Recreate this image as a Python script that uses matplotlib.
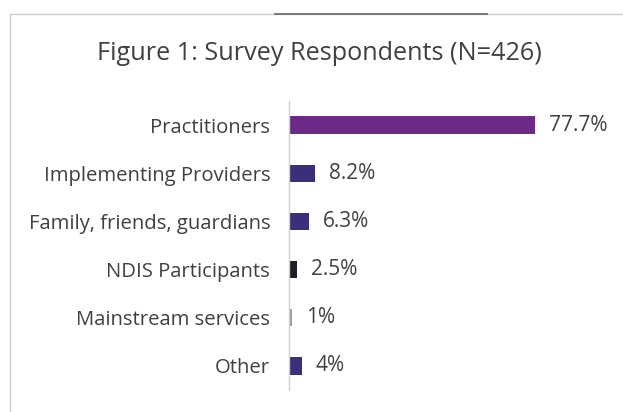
import matplotlib
matplotlib.use("Agg")
import matplotlib.pyplot as plt
from matplotlib.patches import Rectangle
from matplotlib.lines import Line2D

categories = ["Practitioners", "Implementing Providers", "Family, friends, guardians",
              "NDIS Participants", "Mainstream services", "Other"]
values = [77.7, 8.2, 6.3, 2.5, 1.0, 4.0]
value_labels = ["77.7%", "8.2%", "6.3%", "2.5%", "1%", "4%"]
bar_colors = ["#6b2a88", "#3b2f7c", "#3b2f7c", "#1e1e2a", "#9a9aa0", "#3b2f7c"]

plt.rcParams["font.family"] = ["Open Sans", "DejaVu Sans"]
text_color = "#404040"

fig = plt.figure(figsize=(6.23, 4.12), dpi=100)
fig.patch.set_facecolor("white")

# chart frame
fig.add_artist(Rectangle((10 / 623, -0.05), 1.0, 1 - 14 / 412 + 0.05,
                         transform=fig.transFigure, fill=False,
                         edgecolor="#cfcfcf", linewidth=1.0))
fig.add_artist(Line2D([275 / 623, 487 / 623], [1 - 14 / 412, 1 - 14 / 412],
                      transform=fig.transFigure, color="#6e6e6e", linewidth=1.3))

fig.text(319 / 623, 1 - 53 / 412, "Figure 1: Survey Respondents (N=426)",
         ha="center", va="center", fontsize=18.2, color=text_color)

ax = fig.add_axes([289 / 623, 1 - 390 / 412, 317 / 623, 289 / 412])
y = list(range(len(categories)))
ax.barh(y, values, height=0.36, color=bar_colors)
ax.set_xlim(0, 100)
ax.set_ylim(len(categories) - 0.5, -0.5)
ax.set_yticks(y)
ax.set_yticklabels(categories, fontsize=14.6, color=text_color)
ax.tick_params(axis="y", length=0, pad=13.5)
ax.set_xticks([])
for s in ["top", "right", "bottom"]:
    ax.spines[s].set_visible(False)
ax.spines["left"].set_color("#d0d0d0")
ax.spines["left"].set_linewidth(1.0)

for yi, v, lab in zip(y, values, value_labels):
    ax.text(v + 4.3, yi, lab, va="center", ha="left", fontsize=15, color=text_color)

fig.savefig("out.png", dpi=100, facecolor="white")
